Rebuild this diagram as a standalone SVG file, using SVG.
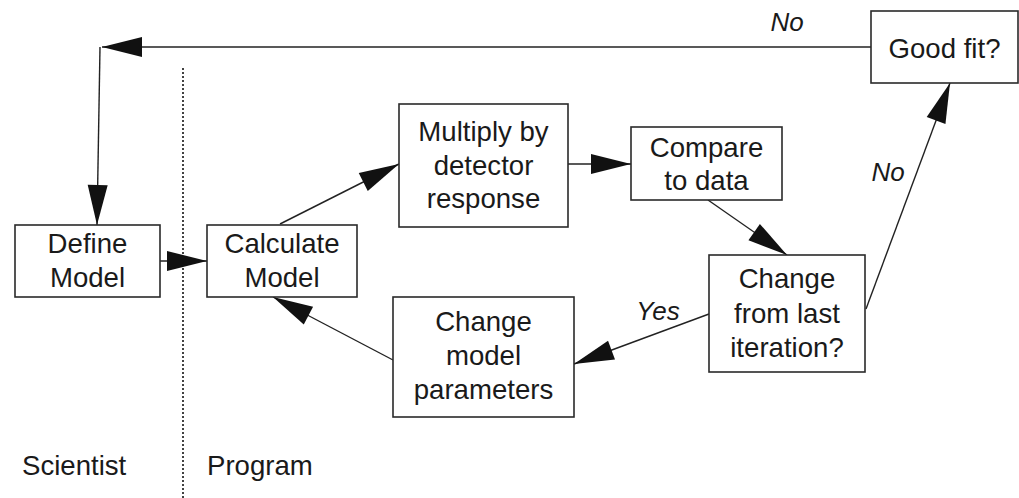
<svg xmlns="http://www.w3.org/2000/svg" width="1019" height="498" viewBox="0 0 1019 498">
<style>
.box{fill:#fff;stroke:#2a2a2a;stroke-width:1.6}
.t{font-family:"Liberation Sans",Arial,sans-serif;font-size:27.6px;fill:#1a1a1a;text-anchor:middle}
.lab{font-family:"Liberation Sans",Arial,sans-serif;font-size:26px;fill:#1a1a1a;font-style:italic;text-anchor:middle}
.c{stroke:#222;stroke-width:1.4;fill:none}
</style>
<defs>
<marker id="ah" markerUnits="userSpaceOnUse" markerWidth="42" markerHeight="22" refX="40" refY="10" orient="auto" overflow="visible">
<path d="M0,0 L40,10 L0,20 Z" fill="#111"/>
</marker>
</defs>
<rect width="1019" height="498" fill="#fff"/>
<line x1="183" y1="68" x2="183" y2="498" stroke="#222" stroke-width="1.7" stroke-dasharray="2 2"/>
<g id="connectors">
<line class="c" x1="871" y1="47" x2="102" y2="47" marker-end="url(#ah)"/>
<line class="c" x1="100" y1="47" x2="97" y2="225" marker-end="url(#ah)"/>
<line class="c" x1="160" y1="261" x2="207" y2="261" marker-end="url(#ah)"/>
<line class="c" x1="280" y1="224" x2="399" y2="164" marker-end="url(#ah)"/>
<line class="c" x1="568" y1="164" x2="631" y2="164" marker-end="url(#ah)"/>
<line class="c" x1="708" y1="200" x2="787" y2="255" marker-end="url(#ah)"/>
<line class="c" x1="866" y1="309" x2="950" y2="83" marker-end="url(#ah)"/>
<line class="c" x1="709" y1="314" x2="574" y2="364" marker-end="url(#ah)"/>
<line class="c" x1="393" y1="360" x2="273" y2="297" marker-end="url(#ah)"/>
<text class="lab" x="787" y="31">No</text>
<text class="lab" x="888" y="181">No</text>
<text class="lab" x="658" y="320">Yes</text>
</g>
<g id="define">
<rect class="box" x="15" y="225" width="145" height="72"/>
<text class="t" x="87.5" y="253">Define</text>
<text class="t" x="87.5" y="287">Model</text>
</g>
<g id="calculate">
<rect class="box" x="207" y="225" width="150" height="72"/>
<text class="t" x="282" y="253">Calculate</text>
<text class="t" x="282" y="287">Model</text>
</g>
<g id="multiply">
<rect class="box" x="399" y="104" width="169" height="123"/>
<text class="t" x="483.5" y="141">Multiply by</text>
<text class="t" x="483.5" y="175">detector</text>
<text class="t" x="483.5" y="208">response</text>
</g>
<g id="compare">
<rect class="box" x="631" y="127" width="151" height="73"/>
<text class="t" x="706.5" y="157">Compare</text>
<text class="t" x="706.5" y="190">to data</text>
</g>
<g id="goodfit">
<rect class="box" x="871" y="11" width="147" height="72"/>
<text class="t" x="944.5" y="58">Good fit?</text>
</g>
<g id="changelast">
<rect class="box" x="709" y="255" width="156" height="117"/>
<text class="t" x="787" y="288">Change</text>
<text class="t" x="787" y="323">from last</text>
<text class="t" x="787" y="357">iteration?</text>
</g>
<g id="changeparams">
<rect class="box" x="393" y="297" width="181" height="120"/>
<text class="t" x="483.5" y="331">Change</text>
<text class="t" x="483.5" y="365">model</text>
<text class="t" x="483.5" y="399">parameters</text>
</g>
<g id="lanes">
<text class="t" x="22" y="475" style="text-anchor:start">Scientist</text>
<text class="t" x="207" y="475" style="text-anchor:start">Program</text>
</g>
</svg>
